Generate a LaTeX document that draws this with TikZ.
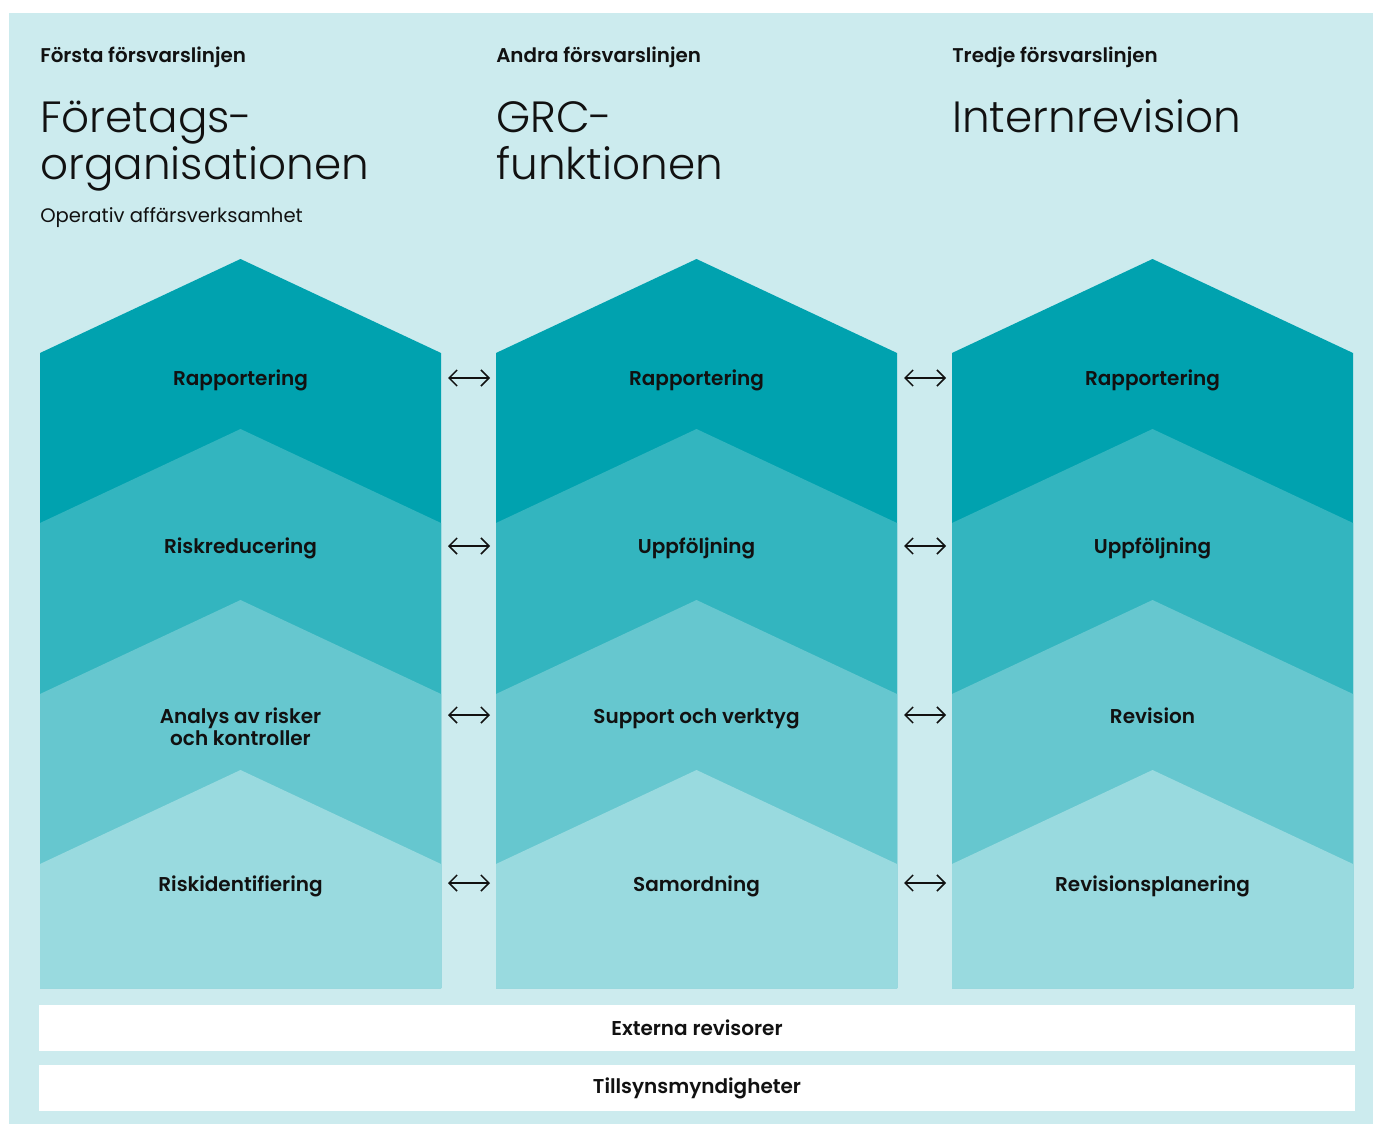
\documentclass[tikz,border=0pt]{standalone}
\usepackage{fontspec}
\setmainfont{Poppins}[BoldFont={Poppins SemiBold}]
\newfontfamily\lightfont{Poppins Light}
\usetikzlibrary{arrows.meta}
\definecolor{cA}{RGB}{0,162,175}
\definecolor{cB}{RGB}{51,181,191}
\definecolor{cC}{RGB}{102,199,207}
\definecolor{cD}{RGB}{153,218,223}
\definecolor{cBg}{RGB}{204,235,238}
\definecolor{ink}{RGB}{17,17,17}
\tikzset{
  hdr/.style={anchor=base west, inner sep=0pt, font=\bfseries\fontsize{14.9}{17}\selectfont, text=ink},
  ttl/.style={anchor=base west, inner sep=0pt, font=\lightfont\fontsize{32.8}{36}\selectfont, text=ink},
  sub/.style={anchor=base west, inner sep=0pt, font=\fontsize{14.7}{17}\selectfont, text=ink},
  lbl/.style={anchor=base, inner sep=0pt, font=\bfseries\fontsize{15}{17}\selectfont, text=ink, align=center},
  bar/.style={fill=white, minimum width=1316*0.75pt, minimum height=46*0.75pt, inner sep=0pt, font=\bfseries\fontsize{15}{17}\selectfont, text=ink},
  dbl/.style={{Straight Barb[length=6pt,width=12pt]}-{Straight Barb[length=6pt,width=12pt]}, line width=1.1pt, draw=ink}
}
\begin{document}
\begin{tikzpicture}[x=0.75pt,y=-0.75pt]
\useasboundingbox (0,0) rectangle (1373,1124);
\fill[cBg] (9,13) rectangle (1373,1124);
% chevron layers
\foreach \L in {40,496,952}{
  \pgfmathsetmacro{\R}{\L+401}
  \pgfmathsetmacro{\M}{\L+200.5}
  \fill[cA] (\L,353) -- (\M,259) -- (\R,353) -- (\R,988) -- (\L,988) -- cycle;
  \fill[cB] (\L,523) -- (\M,429) -- (\R,523) -- (\R,988) -- (\L,988) -- cycle;
  \fill[cC] (\L,694) -- (\M,600) -- (\R,694) -- (\R,988) -- (\L,988) -- cycle;
  \fill[cD] (\L,864) -- (\M,770) -- (\R,864) -- (\R,988) -- (\L,988) -- cycle;
}
% headers
\node[hdr] (h1) at (40,63) {Första försvarslinjen};
\node[hdr] (h2) at (496,63) {Andra försvarslinjen};
\node[hdr] (h3) at (952,63) {Tredje försvarslinjen};
\node[ttl] (t1a) at (40,132) {Företags-};
\node[ttl] (t1b) at (40,179) {organisationen};
\node[ttl] (t2a) at (496,132) {GRC-};
\node[ttl] (t2b) at (496,179) {funktionen};
\node[ttl] (t3a) at (952,132) {Internrevision};
\node[sub] (s1) at (40,222) {Operativ affärsverksamhet};
% labels column 1
\node[lbl] (a1) at (240.5,385) {Rapportering};
\node[lbl] (a2) at (240.5,553) {Riskreducering};
\node[lbl] (a3) at (240.5,723) {Analys av risker};
\node[lbl] (a3b) at (240.5,745) {och kontroller};
\node[lbl] (a4) at (240.5,891) {Riskidentifiering};
% labels column 2
\node[lbl] (b1) at (696.5,385) {Rapportering};
\node[lbl] (b2) at (696.5,553) {Uppföljning};
\node[lbl] (b3) at (696.5,723) {Support och verktyg};
\node[lbl] (b4) at (696.5,891) {Samordning};
% labels column 3
\node[lbl] (c1) at (1152.5,385) {Rapportering};
\node[lbl] (c2) at (1152.5,553) {Uppföljning};
\node[lbl] (c3) at (1152.5,723) {Revision};
\node[lbl] (c4) at (1152.5,891) {Revisionsplanering};
% arrows
\foreach \n/\y in {1/378,2/546,3/715,4/883}{
  \coordinate (p\n a) at (448,\y);
  \coordinate (p\n b) at (490,\y);
  \coordinate (q\n a) at (904,\y);
  \coordinate (q\n b) at (946,\y);
  \draw[dbl] (p\n a) -- (p\n b);
  \draw[dbl] (q\n a) -- (q\n b);
}
% bottom bars
\node[bar] (ext) at (697,1028) {Externa revisorer};
\node[bar] (reg) at (697,1088) {Tillsynsmyndigheter};
\end{tikzpicture}
\end{document}
